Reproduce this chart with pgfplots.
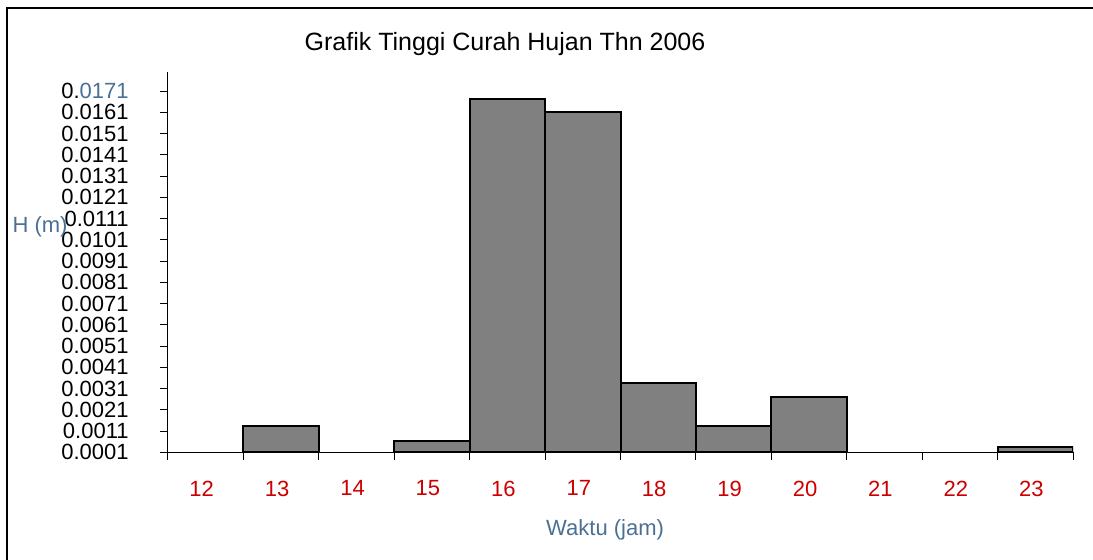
\documentclass[border=0pt]{standalone}
\usepackage{pgfplots}
\pgfplotsset{compat=1.18}
\usepackage{fontspec}
\setmainfont{Liberation Sans}
\definecolor{barfill}{RGB}{128,128,128}
\definecolor{labelblue}{RGB}{74,112,148}
\definecolor{catred}{RGB}{204,0,0}
\begin{document}
\begin{tikzpicture}
\useasboundingbox (0pt,0pt) rectangle (546.5pt,280pt);
\draw[line width=1pt] (3.5pt,0pt) -- (3.5pt,276pt) -- (546.5pt,276pt);
\begin{axis}[
  at={(84pt,53.85pt)}, anchor=south west,
  scale only axis, width=452.5pt, height=190.15pt,
  xmin=11.5, xmax=23.5, ymin=0.0001, ymax=0.0180,
  axis lines*=left,
  axis line style={black, line width=0.5pt},
  tick align=outside,
  major tick length=4pt,
  tick style={black, line width=0.5pt},
  xtick={11.5,12.5,...,23.5},
  xticklabels={12,13,14,15,16,17,18,19,20,21,22,23},
  x tick label as interval,
  xticklabel style={font=\fontsize{11}{11}\selectfont, text=catred, anchor=north, inner sep=0pt, yshift=-10pt, xshift=-2pt},
  ytick={0.0001,0.0011,0.0021,0.0031,0.0041,0.0051,0.0061,0.0071,0.0081,0.0091,0.0101,0.0111,0.0121,0.0131,0.0141,0.0151,0.0161,0.0171},
  yticklabels={0.0001,0.0011,0.0021,0.0031,0.0041,0.0051,0.0061,0.0071,0.0081,0.0091,0.0101,0.0111,0.0121,0.0131,0.0141,0.0151,0.0161,{0.\textcolor{labelblue}{0171}}},
  yticklabel style={font=\fontsize{11}{11}\selectfont, anchor=east, inner sep=0pt, xshift=-15.5pt},
  scaled y ticks=false,
  title={Grafik Tinggi Curah Hujan Thn 2006},
  title style={font=\fontsize{12.5}{14}\selectfont, at={(axis description cs:0.3724,1.041)}, anchor=center, inner sep=0pt},
  xlabel={Waktu (jam)},
  xlabel style={font=\fontsize{11}{13}\selectfont, text=labelblue, at={(axis description cs:0.483,-0.205)}, anchor=center, inner sep=0pt},
  ylabel={H (m)},
  ylabel style={font=\fontsize{11}{13}\selectfont, text=labelblue, rotate=-90, at={(axis description cs:-0.1414,0.594)}, anchor=center, inner sep=0pt},
]
\addplot[ybar, bar width=1, bar shift=0pt, fill=barfill, draw=black, line width=1pt] coordinates {
  (13,0.00135) (15,0.00063) (16,0.01675) (17,0.01614) (18,0.00338) (19,0.00134) (20,0.00268) (23,0.00036)
};
\end{axis}
\end{tikzpicture}
\end{document}
